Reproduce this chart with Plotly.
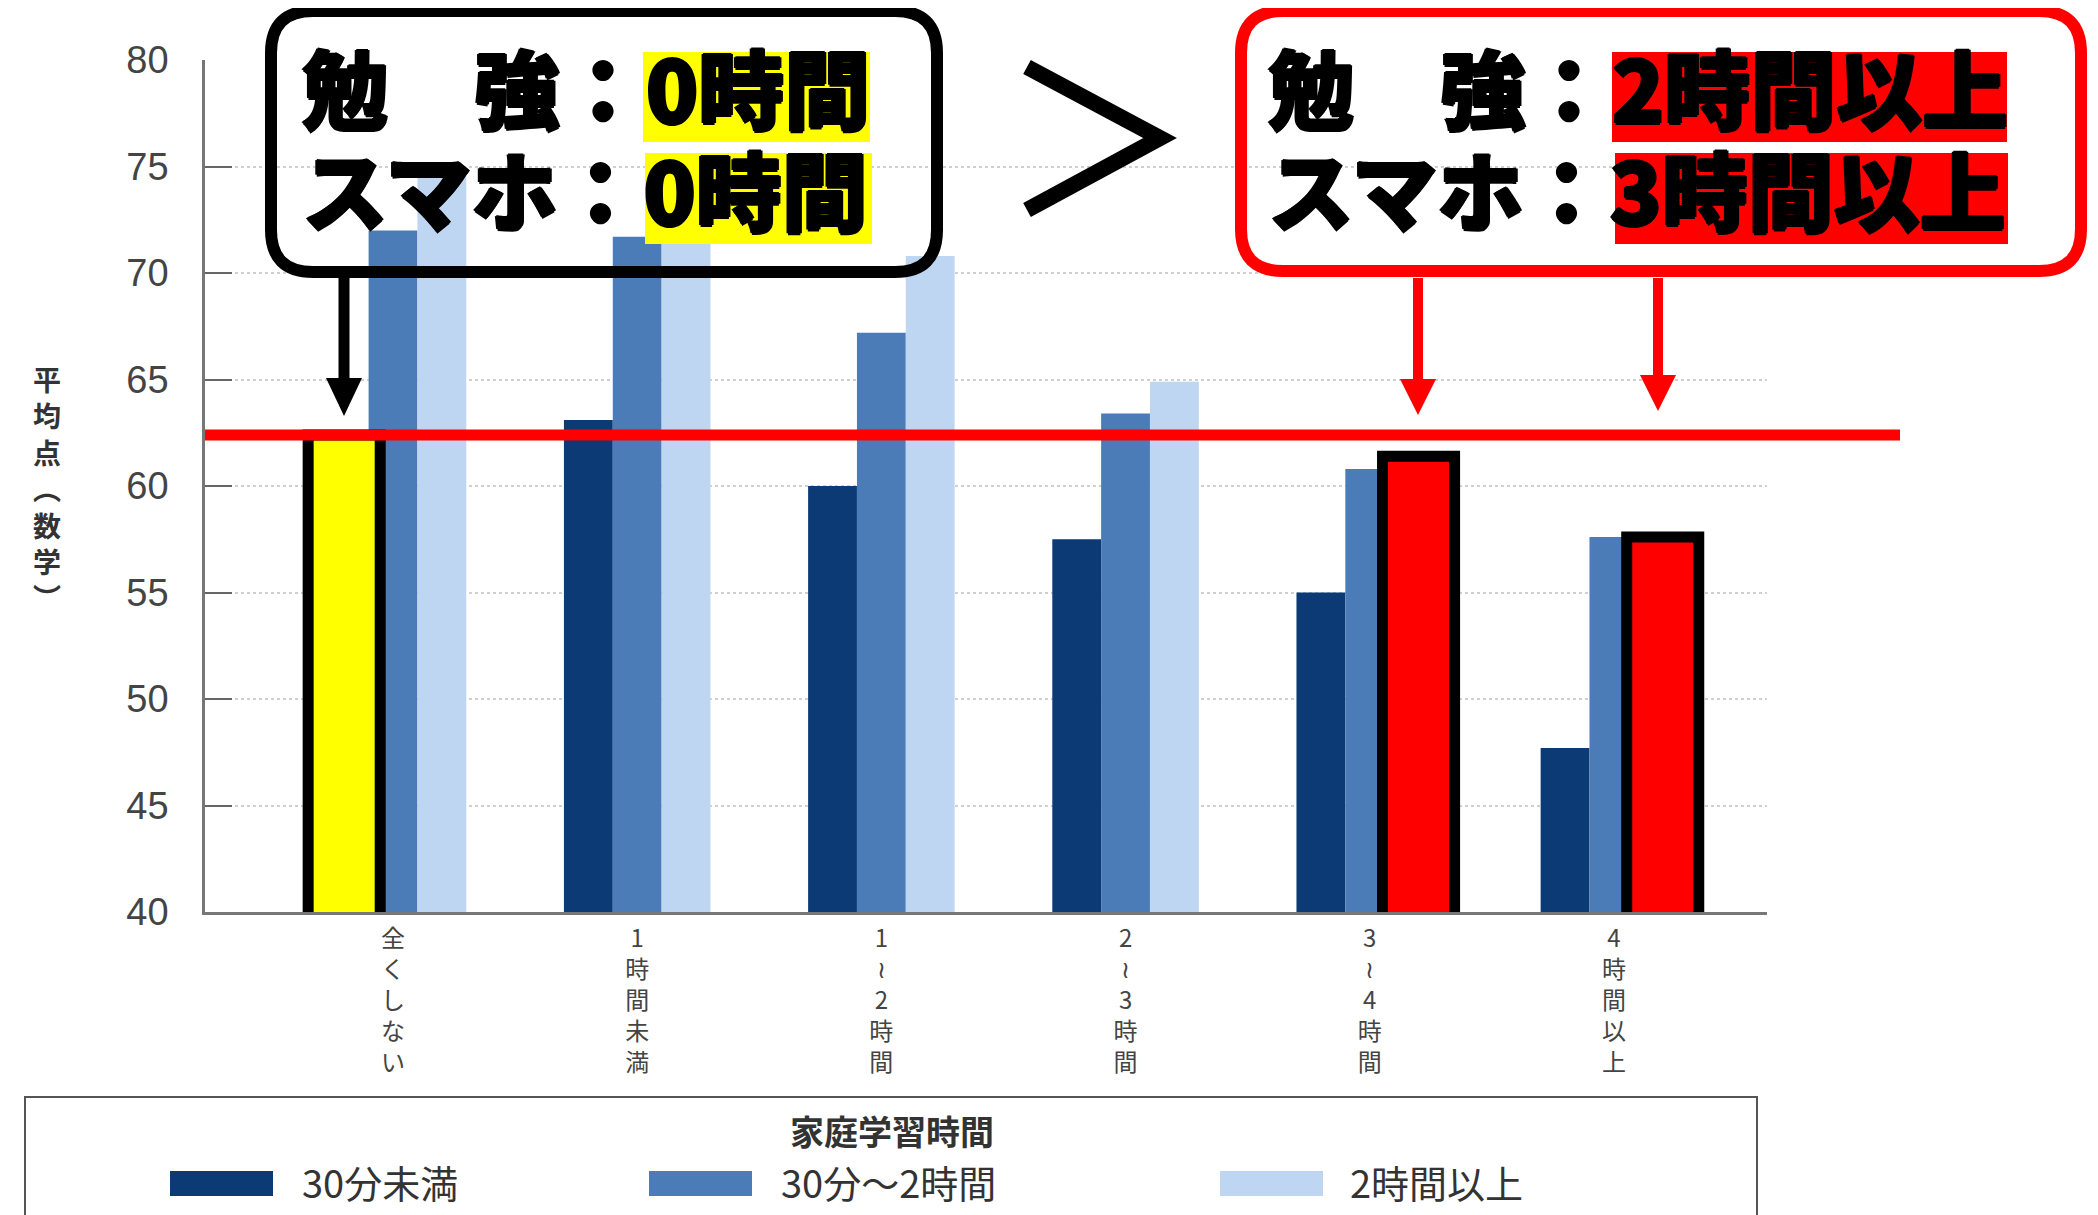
import plotly.graph_objects as go

# ---------------- data ----------------
categories = ["全くしない", "1時間未満", "1〜2時間", "2〜3時間", "3〜4時間", "4時間以上"]
series_names = ["30分未満", "30分〜2時間", "2時間以上"]
under_30min = [62.4, 63.1, 60.0, 57.5, 55.0, 47.7]
min30_to_2h = [72.0, 71.7, 67.2, 63.4, 60.8, 57.6]
over_2h = [74.6, 71.5, 70.8, 64.9, 61.4, 57.6]
y_ticks = [40, 45, 50, 55, 60, 65, 70, 75, 80]
legend_title = "家庭学習時間"
y_title = "平均点(数学)"
left_rows = ["勉　強：0時間", "スマホ：0時間"]
right_rows = ["勉　強：2時間以上", "スマホ：3時間以上"]

# ---------------- styles / layout ----------------
COLORS = ["#0b3a75", "#4b7cb8", "#bfd6f2"]
OFF = 8                      # default page margin of the html body
FW, FH = 2098 - OFF, 1215 - OFF
L, R, T, B = 205, 1767, 60, 912   # plot area in page pixels
CJK = "Noto Sans CJK JP"


def px(x):
    return (x - L) / (R - L)


def py(y):
    return (B - y) / (B - T)


fig = go.Figure()

offsets = [-0.3, -0.1, 0.1]
for name, vals, col, off in zip(series_names, [under_30min, min30_to_2h, over_2h], COLORS, offsets):
    fig.add_trace(go.Bar(x=categories, y=vals, name=name, marker=dict(color=col, line=dict(width=0)),
                         width=0.2, offset=off, showlegend=False))

# highlight bars (drawn from the data arrays)
fig.add_trace(go.Bar(x=[categories[0]], y=[under_30min[0]], width=0.295, offset=-0.2 - 0.1475,
                     marker=dict(color="#ffff00", line=dict(color="black", width=11)),
                     cliponaxis=False, showlegend=False, hoverinfo="skip"))
fig.add_trace(go.Bar(x=[categories[4], categories[5]], y=[over_2h[4], over_2h[5]], width=0.295,
                     offset=0.2 - 0.1475,
                     marker=dict(color="#ff0000", line=dict(color="black", width=11)),
                     cliponaxis=False, showlegend=False, hoverinfo="skip"))

shapes = []
annotations = []

# red reference line at the yellow bar's value
shapes.append(dict(type="line", xref="paper", yref="y", x0=0, x1=px(1900),
                   y0=under_30min[0], y1=under_30min[0], line=dict(color="#ff0000", width=11)))


def rrect(x0, y0, x1, y1, r):
    pts = [
        ("M", [(x0 + r, y0)]), ("L", [(x1 - r, y0)]), ("Q", [(x1, y0), (x1, y0 + r)]),
        ("L", [(x1, y1 - r)]), ("Q", [(x1, y1), (x1 - r, y1)]), ("L", [(x0 + r, y1)]),
        ("Q", [(x0, y1), (x0, y1 - r)]), ("L", [(x0, y0 + r)]), ("Q", [(x0, y0), (x0 + r, y0)]),
    ]
    s = ""
    for cmd, ps in pts:
        s += cmd + " " + " ".join(f"{px(a):.5f},{py(b):.5f}" for a, b in ps) + " "
    return s + "Z"


def poly(points):
    return "M " + " L ".join(f"{px(a):.5f},{py(b):.5f}" for a, b in points) + " Z"


def pline(points):
    return "M " + " L ".join(f"{px(a):.5f},{py(b):.5f}" for a, b in points)


# highlight rectangles behind text
for (x0, x1, y0, y1) in [(643, 870, 52, 142), (645, 872, 153, 244)]:
    shapes.append(dict(type="rect", xref="paper", yref="paper", x0=px(x0), x1=px(x1), y0=py(y1), y1=py(y0),
                       fillcolor="#ffff00", line=dict(width=0)))
for (x0, x1, y0, y1) in [(1612, 2007, 52, 142), (1615, 2008, 153, 244)]:
    shapes.append(dict(type="rect", xref="paper", yref="paper", x0=px(x0), x1=px(x1), y0=py(y1), y1=py(y0),
                       fillcolor="#ff0000", line=dict(width=0)))

# rounded boxes
shapes.append(dict(type="path", xref="paper", yref="paper", path=rrect(271, 11, 937, 272, 42),
                   line=dict(color="black", width=12)))
shapes.append(dict(type="path", xref="paper", yref="paper", path=rrect(1241, 11, 2081, 271, 42),
                   line=dict(color="#ff0000", width=12)))

# arrows
shapes.append(dict(type="line", xref="paper", yref="paper", x0=px(344), x1=px(344), y0=py(278), y1=py(385),
                   line=dict(color="black", width=11)))
shapes.append(dict(type="path", xref="paper", yref="paper", path=poly([(326, 378), (362, 378), (344, 416)]),
                   fillcolor="black", line=dict(width=0)))
for cx, ytop, ytip in [(1418, 379, 415), (1658, 375, 411)]:
    shapes.append(dict(type="line", xref="paper", yref="paper", x0=px(cx), x1=px(cx), y0=py(278),
                       y1=py(ytop + 5), line=dict(color="#ff0000", width=10)))
    shapes.append(dict(type="path", xref="paper", yref="paper",
                       path=poly([(cx - 18, ytop), (cx + 18, ytop), (cx, ytip)]),
                       fillcolor="#ff0000", line=dict(width=0)))

# ">" chevron
shapes.append(dict(type="path", xref="paper", yref="paper",
                   path=pline([(1027, 67), (1160, 138), (1027, 210)]),
                   line=dict(color="black", width=16)))

# box texts (one annotation per row; heavier look via a thin text shadow)
BIG = dict(family=CJK, size=86, color="black", weight=900,
           shadow="1.5px 0 0 #000, -1.5px 0 0 #000, 0 1.5px 0 #000, 0 -1.5px 0 #000")
for rows, xl in [(left_rows, 300), (right_rows, 1266)]:
    for txt, yc in zip(rows, [85, 187]):
        annotations.append(dict(text=txt, x=px(xl), y=py(yc), xref="paper", yref="paper", xanchor="left",
                                yanchor="middle", showarrow=False, font=BIG))

# y axis title, stacked vertically (vertical forms for parentheses)
vert = {"(": "︵", ")": "︶", "〜": "≀"}
y_title_v = "<br>".join(vert.get(c, c) for c in y_title)
annotations.append(dict(text=y_title_v, x=px(47), y=py(488), xref="paper", yref="paper", xanchor="center",
                        yanchor="middle", showarrow=False, align="center",
                        font=dict(family=CJK, size=28, color="#333333", weight="bold")))

# x tick labels written vertically
tick_text = ["<br>".join(vert.get(c, c) for c in cat) for cat in categories]

# legend (manual)
shapes.append(dict(type="rect", xref="paper", yref="paper", x0=px(25), x1=px(1757), y0=py(1260), y1=py(1097),
                   line=dict(color="#555555", width=2), fillcolor="rgba(0,0,0,0)"))
annotations.append(dict(text=legend_title, x=px(892), y=py(1130), xref="paper", yref="paper",
                        xanchor="center", yanchor="middle", showarrow=False,
                        font=dict(family=CJK, size=34, color="#333333", weight="bold")))
for name, col, sx0, tx in zip(series_names, COLORS, [170, 649, 1220], [300, 779, 1348]):
    shapes.append(dict(type="rect", xref="paper", yref="paper", x0=px(sx0), x1=px(sx0 + 103),
                       y0=py(1196), y1=py(1171), fillcolor=col, line=dict(width=0)))
    annotations.append(dict(text=name, x=px(tx), y=py(1181), xref="paper", yref="paper", xanchor="left",
                            yanchor="middle", showarrow=False,
                            font=dict(family=CJK, size=38, color="#333333")))

fig.update_layout(
    width=FW, height=FH,
    margin=dict(l=L - OFF, r=FW - (R - OFF), t=T - OFF, b=FH - (B - OFF), pad=0),
    barmode="overlay",
    plot_bgcolor="white", paper_bgcolor="white",
    shapes=shapes, annotations=annotations,
    showlegend=False,
)
fig.update_xaxes(type="category", range=[-0.77, 5.627], tickvals=categories, ticktext=tick_text,
                 ticks="", tickfont=dict(family=CJK, size=24, color="#444444"), ticklabelstandoff=3,
                 showline=True, linecolor="#777777", linewidth=2.5, showgrid=False, zeroline=False,
                 categoryorder="array", categoryarray=categories)
fig.update_yaxes(range=[40, 80], tickvals=y_ticks, ticks="inside", ticklen=27, tickwidth=2,
                 tickcolor="#666666", showline=True, linecolor="#777777", linewidth=2.5,
                 showgrid=True, gridcolor="#d0d0d0", griddash="dot", gridwidth=1.5, zeroline=False,
                 tickfont=dict(family="Liberation Sans", size=38, color="#444444"),
                 ticklabelstandoff=26)

fig.write_html("out.html")
